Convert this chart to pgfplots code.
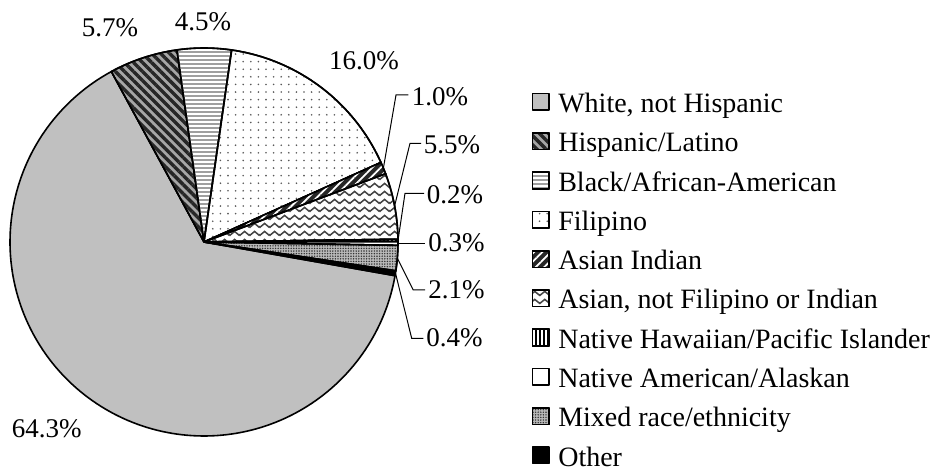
\documentclass[border=0pt]{standalone}
\usepackage{pgfplots}
\pgfplotsset{compat=1.18}
\usepgfplotslibrary{polar}
\usetikzlibrary{patterns,patterns.meta}
\usepackage{fontspec}
\setmainfont{Liberation Serif}

\definecolor{silver}{RGB}{192,192,192}

% wavy lines for "Asian, not Filipino or Indian"
\pgfdeclarepatternformonly{zigzag}{\pgfpointorigin}{\pgfpoint{5pt}{3.8pt}}{\pgfpoint{5pt}{3.8pt}}{%
  \pgfsetlinewidth{0.8pt}%
  \pgfpathmoveto{\pgfpoint{-2.5pt}{2.9pt}}%
  \pgfpathlineto{\pgfpoint{0pt}{0.9pt}}%
  \pgfpathlineto{\pgfpoint{2.5pt}{2.9pt}}%
  \pgfpathlineto{\pgfpoint{5pt}{0.9pt}}%
  \pgfpathlineto{\pgfpoint{7.5pt}{2.9pt}}%
  \pgfusepath{stroke}%
}

% one slice: #1 percent, #2 style, #3 legend text (clockwise from \cur)
\newcommand\cur{-10}
\newcommand\slice[3]{%
  \pgfmathsetmacro\aA{\cur}%
  \pgfmathsetmacro\aB{\cur-3.6*#1}%
  \pgfmathtruncatemacro\nn{max(2,ceil(3.6*#1/1.5))}%
  \pgfmathsetmacro\stp{(\aB-\aA)/\nn}%
  \xdef\pts{(0,0)}%
  \foreach \k in {0,...,\nn}{%
    \pgfmathsetmacro\ang{\aA+\stp*\k}%
    \xdef\pts{\pts (\ang,1)}%
  }%
  \xdef\cur{\aB}%
  \edef\temp{\noexpand\addplot[\unexpanded{#2}] coordinates {\pts (0,0)};}%
  \temp
  \addlegendentry{#3}%
}

\begin{document}
\begin{tikzpicture}
\begin{polaraxis}[
  hide axis, clip=false,
  ymin=0, ymax=1,
  scale only axis, width=194pt, height=194pt,
  legend style={at={(axis description cs:1.3446,0.396)}, anchor=west,
    draw=none, fill=none, inner sep=0pt, outer sep=0pt,
    row sep=6.63pt, column sep=4.2pt,
    font=\fontsize{14}{16}\selectfont,
    nodes={inner sep=0pt, text height=10pt, text depth=3pt},
    cells={anchor=base west}},
  legend image code/.code={\draw[#1] (0pt,1.2pt) rectangle (8.3pt,9.5pt);},
  every axis plot/.append style={draw=black, line width=0.8pt, line join=round},
]
\coordinate (C) at (axis cs:0,0);
\slice{64.3}{fill=silver}{White, not Hispanic}
\slice{5.7}{preaction={fill=gray!70}, pattern={Lines[angle=-45,distance=3.2pt,line width=1.7pt]}, pattern color=black!85}{Hispanic/Latino}
\slice{4.5}{preaction={fill=white}, pattern={Lines[angle=0,distance=2pt,line width=0.7pt]}, pattern color=gray!75}{Black/African-American}
\slice{16.0}{preaction={fill=white}, pattern={Dots[distance=3.8pt,radius=0.45pt]}, pattern color=gray!70!black}{Filipino}
\slice{1.0}{preaction={fill=black!85}, pattern={Lines[angle=45,distance=3pt,line width=0.9pt]}, pattern color=white}{Asian Indian}
\slice{5.5}{preaction={fill=white}, pattern=zigzag, pattern color=gray!55!black}{Asian, not Filipino or Indian}
\slice{0.2}{preaction={fill=white}, pattern={Lines[angle=90,distance=2pt,line width=0.8pt]}, pattern color=black}{Native Hawaiian/Pacific Islander}
\slice{0.3}{fill=white}{Native American/Alaskan}
\slice{2.1}{preaction={fill=gray!55}, pattern={Dots[distance=1.3pt,radius=0.4pt]}, pattern color=gray!40!black}{Mixed race/ethnicity}
\slice{0.4}{fill=black}{Other}
\end{polaraxis}

\begin{scope}[shift={(C)}, x=0.5pt, y=0.5pt, font=\fontsize{13.5}{15}\selectfont]
  \node at (-94,214) {5.7\%};
  \node at (-1,220.5) {4.5\%};
  \node at (160,181) {16.0\%};
  \node at (-157.3,-187) {64.3\%};
  \begin{scope}[line width=0.5pt]
    \draw (179.4,73.9) -- (192,147) -- (204.3,147);
    \draw (190.6,36.0) -- (206,98.7) -- (217,98.7);
    \draw (194,1.5) -- (201,48.7) -- (220,48.7);
    \draw (194,-1.4) -- (221,-1.4);
    \draw (193.3,-16.2) -- (209.3,-48) -- (221,-48);
    \draw (191.5,-31.3) -- (207.7,-96.3) -- (219.3,-96.3);
  \end{scope}
  \begin{scope}[every node/.style={anchor=west, inner sep=0pt}]
    \node at (207.5,145) {1.0\%};
    \node at (219.5,97) {5.5\%};
    \node at (222.5,47) {0.2\%};
    \node at (224,-1) {0.3\%};
    \node at (224,-48) {2.1\%};
    \node at (222,-96) {0.4\%};
  \end{scope}
  \path[use as bounding box] (-204,-226) rectangle (728,242);
\end{scope}
\end{tikzpicture}
\end{document}
